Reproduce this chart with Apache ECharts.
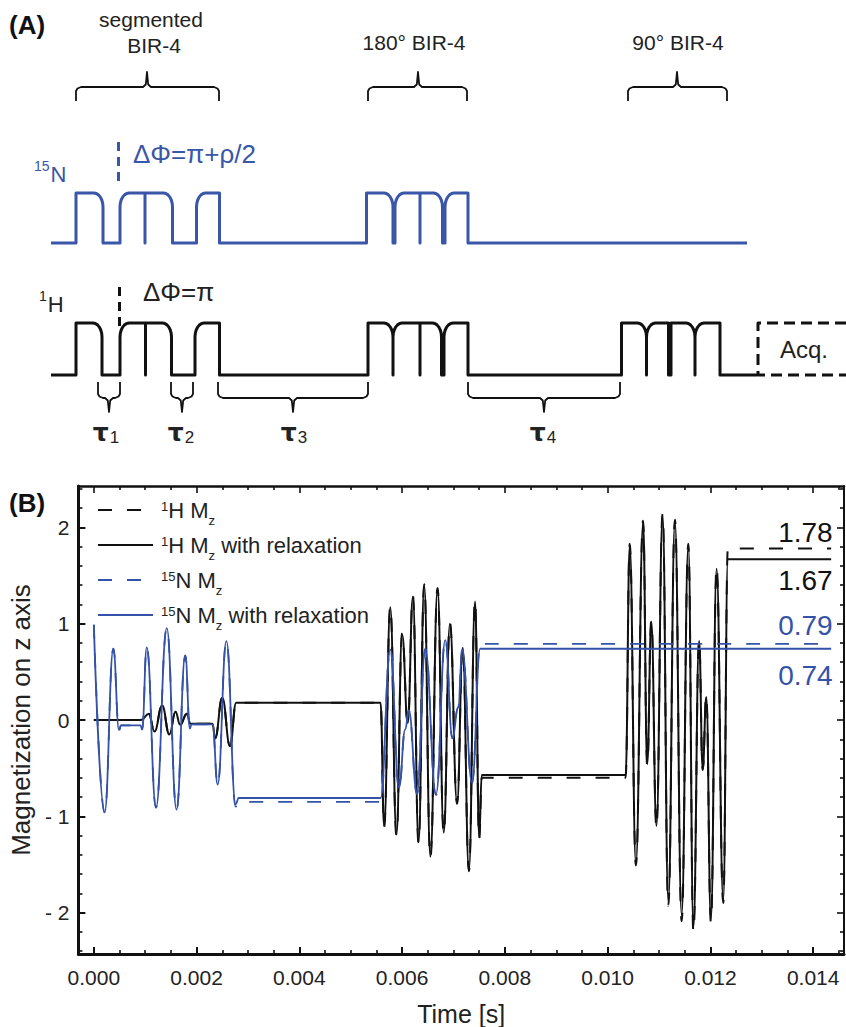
<!DOCTYPE html>
<html><head><meta charset="utf-8">
<script src="https://cdn.jsdelivr.net/npm/echarts@6/dist/echarts.min.js"></script>
<style>html,body{margin:0;padding:0;background:#fff}#c{width:846px;height:1027px}</style>
</head><body><div id="c"></div>
<script>
// ================= Panel B data (time in s, magnetization) =================
const xMajorTicks = [0, 0.002, 0.004, 0.006, 0.008, 0.010, 0.012, 0.014];
const xMinorTicks = [0.0005,0.001,0.0015,0.0025,0.003,0.0035,0.0045,0.005,0.0055,0.0065,0.007,0.0075,0.0085,0.009,0.0095,0.0105,0.011,0.0115,0.0125,0.013,0.0135,0.0145];
const yMajorTicks = [-2, -1, 0, 1, 2];
const yMinorTicks = [-2.4,-2.2,-1.8,-1.6,-1.4,-1.2,-0.8,-0.6,-0.4,-0.2,0.2,0.4,0.6,0.8,1.2,1.4,1.6,1.8,2.2,2.4];

const seriesNames = ['1H Mz', '1H Mz with relaxation', '15N Mz', '15N Mz with relaxation'];

const h1MzRelax = [
 [0,0],[0.00092,0],[0.00107,0.065],[0.00118,-0.12],[0.00133,0.15],[0.00147,-0.15],[0.00159,0.085],
 [0.00168,-0.05],[0.00181,0.065],[0.00188,-0.04],[0.00231,-0.04],[0.00236,-0.19],[0.00250,0.23],
 [0.00265,-0.27],[0.00277,0.18],[0.00558,0.18],
 [0.00565,-1.10],[0.00577,1.17],[0.00589,-1.19],[0.00600,0.89],[0.00611,-0.03],[0.00621,1.28],
 [0.00632,-1.27],[0.00643,1.40],[0.00655,-1.42],[0.00669,1.36],[0.00681,-1.17],[0.00693,1.00],
 [0.00707,-0.86],[0.00718,0.75],[0.00730,-1.56],[0.00742,1.23],[0.00750,-1.22],[0.00755,-0.57],
 [0.01035,-0.57],
 [0.01043,1.81],[0.01055,-1.49],[0.01069,2.05],[0.01077,-0.46],[0.01085,1.02],[0.01095,-1.10],
 [0.01107,2.12],[0.01118,-1.88],[0.01131,2.06],[0.01144,-2.02],[0.01157,1.81],[0.01167,-2.15],
 [0.01178,0.82],[0.01185,-0.51],[0.01192,0.24],[0.01201,-2.07],[0.01212,1.57],[0.01225,-1.87],
 [0.01234,1.67],[0.01435,1.67]
];
const h1Mz = [
 [0,0],[0.00092,0],[0.00107,0.065],[0.00118,-0.12],[0.00133,0.15],[0.00147,-0.15],[0.00159,0.085],
 [0.00168,-0.05],[0.00181,0.065],[0.00188,-0.04],[0.00231,-0.04],[0.00236,-0.19],[0.00250,0.23],
 [0.00265,-0.27],[0.00277,0.18],[0.00558,0.18],
 [0.00565,-1.11],[0.00577,1.18],[0.00589,-1.20],[0.00600,0.90],[0.00611,-0.03],[0.00621,1.29],
 [0.00632,-1.28],[0.00643,1.41],[0.00655,-1.43],[0.00669,1.37],[0.00681,-1.18],[0.00693,1.01],
 [0.00707,-0.87],[0.00718,0.76],[0.00730,-1.57],[0.00742,1.24],[0.00750,-1.24],[0.00755,-0.60],
 [0.01035,-0.60],
 [0.01043,1.83],[0.01055,-1.51],[0.01069,2.07],[0.01077,-0.47],[0.01085,1.03],[0.01095,-1.12],
 [0.01107,2.14],[0.01118,-1.93],[0.01131,2.08],[0.01144,-2.09],[0.01157,1.83],[0.01167,-2.20],
 [0.01178,0.83],[0.01185,-0.52],[0.01192,0.25],[0.01201,-2.10],[0.01212,1.59],[0.01225,-1.90],
 [0.01234,1.78],[0.01435,1.78]
];
const n15MzRelax = [
 [0,0.99],[0.00021,-0.96],[0.00038,0.74],[0.00049,-0.105],[0.00053,-0.055],[0.00091,-0.055],
 [0.00094,-0.10],[0.00103,0.755],[0.00121,-0.91],[0.00142,0.955],[0.00161,-0.93],[0.00178,0.67],
 [0.00187,-0.09],[0.00190,-0.045],[0.00231,-0.045],[0.00241,-0.67],[0.00258,0.82],[0.00276,-0.875],
 [0.00282,-0.81],[0.00558,-0.81],
 [0.00577,0.73],[0.00594,-0.70],[0.00606,-0.10],[0.00613,0.10],[0.00629,-0.76],[0.00645,0.73],
 [0.00666,-0.77],[0.00684,0.83],[0.00698,-0.19],[0.00709,0.13],[0.00717,0.72],[0.00736,-0.65],
 [0.00752,0.74],[0.01435,0.74]
];
const n15Mz = [
 [0,0.99],[0.00021,-0.96],[0.00038,0.74],[0.00049,-0.105],[0.00053,-0.055],[0.00091,-0.055],
 [0.00094,-0.10],[0.00103,0.755],[0.00121,-0.91],[0.00142,0.955],[0.00161,-0.93],[0.00178,0.67],
 [0.00187,-0.09],[0.00190,-0.045],[0.00231,-0.045],[0.00241,-0.67],[0.00258,0.82],[0.00276,-0.90],
 [0.00282,-0.85],[0.00558,-0.85],
 [0.00577,0.74],[0.00594,-0.71],[0.00606,-0.10],[0.00613,0.10],[0.00629,-0.77],[0.00645,0.74],
 [0.00666,-0.78],[0.00684,0.84],[0.00698,-0.19],[0.00709,0.13],[0.00717,0.73],[0.00736,-0.66],
 [0.00752,0.79],[0.01435,0.79]
];
const finalValues = {h1Mz: 1.78, h1MzRelax: 1.67, n15Mz: 0.79, n15MzRelax: 0.74};

// ================= Panel A (pulse sequence schematic, diagram units) =================
const nTrack = {from: 51, to: 747, base: 243, top: 193};
const hTrack = {from: 51, to: 757, base: 375, top: 323};
// [start, end, kind]  A = abrupt start / rounded end ; R = rounded start / abrupt end
const nPulses = [[76,103,'A'],[120,145,'R'],[145,172.5,'A'],[196.5,219.5,'R'],
                 [366.5,393,'A'],[395,420,'R'],[420,442.5,'A'],[445,468,'R']];
const hPulses = [[76,102,'A'],[120,145.5,'R'],[145.5,171.5,'A'],[195,219.5,'R'],
                 [368,393,'A'],[393,420,'R'],[420,441.5,'A'],[444,468,'R'],
                 [621.5,646.5,'A'],[646.5,668.5,'R'],[671,695,'A'],[695,720,'R']];
const topBraces = [[76,219,147],[368,467,418],[628,727,677]];   // [x0,x1,xc]
const tauBraces = [[98,120,109],[171,193,182],[218,368,293],[468,620,544]];
const phaseMarkers = {n: [118.5, 142, 182], h: [119.5, 287, 326]};
const acqBox = [758, 846, 323, 375];

const BLUE = '#3a56a8', BLACK = '#111111', FONT = 'Liberation Sans, Arial, sans-serif';

function trackPoints(tr, pulses) {
  const rx = 9, ry = 14, n = 6;
  const pts = [[tr.from, tr.base]];
  for (const [a, b, kind] of pulses) {
    pts.push([a, tr.base]);
    if (kind === 'A') {
      pts.push([a, tr.top], [b - rx, tr.top]);
      for (let i = 1; i <= n; i++) { const th = i / n * Math.PI / 2;
        pts.push([b - rx + rx * Math.sin(th), tr.top + ry - ry * Math.cos(th)]); }
      pts.push([b, tr.base]);
    } else {
      pts.push([a, tr.top + ry]);
      for (let i = 1; i <= n; i++) { const th = i / n * Math.PI / 2;
        pts.push([a + rx - rx * Math.cos(th), tr.top + ry - ry * Math.sin(th)]); }
      pts.push([b, tr.top], [b, tr.base]);
    }
  }
  pts.push([tr.to, tr.base]);
  return pts;
}
function bracePoints(x0, x1, xc, yEnd, yH, yTip) {
  const s = Math.sign(yEnd - yH);
  return [[x0, yEnd], [x0, yH + 4*s], [x0 + 1.5, yH + 1.5*s], [x0 + 5, yH], [xc - 4, yH],
          [xc - 1.2, yH - 2.5*s], [xc, yTip], [xc + 1.2, yH - 2.5*s], [xc + 4, yH],
          [x1 - 5, yH], [x1 - 1.5, yH + 1.5*s], [x1, yH + 4*s], [x1, yEnd]];
}
function lineA(data, color, width, type, z) {
  return {type: 'line', xAxisIndex: 0, yAxisIndex: 0, data, symbol: 'none', silent: true,
          clip: false, animation: false, z: z || 2,
          lineStyle: {color, width, type: type || 'solid', join: 'round'}};
}

const seriesA = [];
seriesA.push(lineA(trackPoints(nTrack, nPulses), BLUE, 3));
seriesA.push(lineA(trackPoints(hTrack, hPulses), BLACK, 3));
topBraces.forEach(b => seriesA.push(lineA(bracePoints(b[0], b[1], b[2], 101, 87, 72), BLACK, 1.8)));
tauBraces.forEach(b => seriesA.push(lineA(bracePoints(b[0], b[1], b[2], 382, 398, 412), BLACK, 1.8)));
seriesA.push(lineA([[phaseMarkers.n[0], phaseMarkers.n[1]], [phaseMarkers.n[0], phaseMarkers.n[2]]], BLUE, 3, [9, 6]));
seriesA.push(lineA([[phaseMarkers.h[0], phaseMarkers.h[1]], [phaseMarkers.h[0], phaseMarkers.h[2]]], BLACK, 3, [9, 6]));
seriesA.push(lineA([[acqBox[1], acqBox[2]], [acqBox[0], acqBox[2]], [acqBox[0], acqBox[3]], [acqBox[1], acqBox[3]]], BLACK, 3, [11, 6]));

// ================= Panel B series =================
function markFinal(val, text, dy, color) {
  return {symbol: 'circle', symbolSize: 1, itemStyle: {color: 'rgba(0,0,0,0)'}, silent: true,
    data: [{coord: [0.01435, val], label: {show: true, position: 'left', distance: 0, offset: [2, dy],
      formatter: text, fontSize: 28, fontFamily: FONT, color}}]};
}
function lineB(name, data, color, dashed, width, mark) {
  return {name, type: 'line', xAxisIndex: 1, yAxisIndex: 1, data, symbol: 'none', smooth: 0.45,
    smoothMonotone: 'x', animation: false,
    lineStyle: {color, width, type: dashed ? [14, 15] : 'solid'}, itemStyle: {color}, markPoint: mark};
}
const PBLUE = '#3452a8';
const seriesB = [
  lineB(seriesNames[0], h1Mz, BLACK, true, 2, markFinal(finalValues.h1Mz, '1.78', -16, BLACK)),
  lineB(seriesNames[1], h1MzRelax, BLACK, false, 2, markFinal(finalValues.h1MzRelax, '1.67', 21, BLACK)),
  lineB(seriesNames[2], n15Mz, PBLUE, true, 1.8, markFinal(finalValues.n15Mz, '0.79', -18, PBLUE)),
  lineB(seriesNames[3], n15MzRelax, PBLUE, false, 1.8, markFinal(finalValues.n15MzRelax, '0.74', 27, PBLUE))
];

const legendRich = {
  s: {fontSize: 13, fontFamily: FONT, color: '#222', verticalAlign: 'top', lineHeight: 13, padding: [1, 0, 0, 3]},
  m: {fontSize: 22, fontFamily: FONT, color: '#222', verticalAlign: 'top', lineHeight: 22, padding: [0, 0, 10, 0]},
  z: {fontSize: 13, fontFamily: FONT, color: '#222', verticalAlign: 'top', lineHeight: 13, padding: [15, 0, 0, 0]}
};
const legendText = {
  '1H Mz': '{s|1}{m|H M}{z|z}',
  '1H Mz with relaxation': '{s|1}{m|H M}{z|z}{m| with relaxation}',
  '15N Mz': '{s|15}{m|N M}{z|z}',
  '15N Mz with relaxation': '{s|15}{m|N M}{z|z}{m| with relaxation}'
};

const axisCommon = {type: 'value', gridIndex: 1, splitLine: {show: false}};
const xRange = {min: -0.0003, max: 0.0146};
const yRange = {min: -2.43, max: 2.43};
function tickAxis(base, pos, ticks, len, lineW, showLine) {
  return Object.assign({}, axisCommon, base, {position: pos,
    axisLine: {show: showLine, onZero: false, lineStyle: {color: BLACK, width: lineW}},
    axisTick: {show: true, inside: true, length: len, customValues: ticks, lineStyle: {color: BLACK, width: 1.6}},
    axisLabel: {show: false}});
}

const xAxes = [
  {type: 'value', gridIndex: 0, min: 0, max: 846, show: false},
  Object.assign({}, axisCommon, xRange, {position: 'bottom',
    axisLine: {show: true, onZero: false, lineStyle: {color: BLACK, width: 3}},
    axisTick: {show: true, inside: true, length: 7, customValues: xMajorTicks, lineStyle: {color: BLACK, width: 2}},
    axisLabel: {show: true, customValues: xMajorTicks, formatter: v => v.toFixed(3), fontSize: 21,
      fontFamily: FONT, color: '#222', margin: 13},
    name: 'Time [s]', nameLocation: 'middle', nameGap: 47,
    nameTextStyle: {fontSize: 25, fontFamily: FONT, color: '#222'}}),
  tickAxis(xRange, 'bottom', xMinorTicks, 4, 3, false),
  tickAxis(xRange, 'top', xMajorTicks, 7, 2.5, true),
  tickAxis(xRange, 'top', xMinorTicks, 4, 2.5, false)
];
const yAxes = [
  {type: 'value', gridIndex: 0, min: 0, max: 460, inverse: true, show: false},
  Object.assign({}, axisCommon, yRange, {position: 'left',
    axisLine: {show: true, onZero: false, lineStyle: {color: BLACK, width: 3}},
    axisTick: {show: true, inside: true, length: 7, customValues: yMajorTicks, lineStyle: {color: BLACK, width: 2}},
    axisLabel: {show: true, customValues: yMajorTicks, formatter: v => (v < 0 ? '- ' + (-v) : String(v)),
      fontSize: 21, fontFamily: FONT, color: '#222', margin: 9},
    name: 'Magnetization on z axis', nameLocation: 'middle', nameGap: 40, nameRotate: 90,
    nameTextStyle: {fontSize: 26, fontFamily: FONT, color: '#222'}}),
  tickAxis(yRange, 'left', yMinorTicks, 4, 3, false),
  tickAxis(yRange, 'right', yMajorTicks, 7, 2, true),
  tickAxis(yRange, 'right', yMinorTicks, 4, 2, false)
];

function txt(x, y, text, size, color, opts) {
  return Object.assign({type: 'text', x, y, silent: true,
    style: Object.assign({text, fontSize: size, fontFamily: FONT, fill: color || '#222',
      align: 'center', verticalAlign: 'middle'}, (opts && opts.style) || {})}, (opts && opts.el) || {});
}
const supRich = (c, big) => ({
  s: {fontSize: 14, fontFamily: FONT, fill: c, color: c, verticalAlign: 'top', lineHeight: 14},
  m: {fontSize: big, fontFamily: FONT, fill: c, color: c, verticalAlign: 'bottom', lineHeight: big + 4, padding: [0, 0, 0, 1]}
});
const tauRich = {
  t: {fontSize: 25, fontWeight: 'bold', fontFamily: 'DejaVu Sans, sans-serif', fill: '#222', verticalAlign: 'top', lineHeight: 26},
  b: {fontSize: 17, fontFamily: FONT, fill: '#222', verticalAlign: 'bottom', lineHeight: 17, padding: [14, 0, 0, 1]}
};
const graphics = [
  txt(9, 25, '(A)', 26, '#111', {style: {align: 'left', fontWeight: 'bold'}}),
  txt(151, 19, 'segmented', 21, '#222'),
  txt(154, 45, 'BIR-4', 21, '#222'),
  txt(414, 42, '180° BIR-4', 21, '#222'),
  txt(678, 42, '90° BIR-4', 21, '#222'),
  txt(34, 172, '{s|15}{m|N}', 22, BLUE, {style: {align: 'left', rich: supRich(BLUE, 22)}}),
  txt(133, 154, 'ΔΦ=π+ρ/2', 26, BLUE, {style: {align: 'left'}}),
  txt(39, 302, '{s|1}{m|H}', 22, '#222', {style: {align: 'left', rich: supRich('#222', 22)}}),
  txt(143, 292, 'ΔΦ=π', 26, '#222', {style: {align: 'left'}}),
  txt(106, 433, '{t|τ}{b|1}', 22, '#222', {style: {rich: tauRich}}),
  txt(181, 433, '{t|τ}{b|2}', 22, '#222', {style: {rich: tauRich}}),
  txt(294, 433, '{t|τ}{b|3}', 22, '#222', {style: {rich: tauRich}}),
  txt(543, 433, '{t|τ}{b|4}', 22, '#222', {style: {rich: tauRich}}),
  txt(780, 349, 'Acq.', 24, '#222', {style: {align: 'left'}}),
  txt(9, 503, '(B)', 26, '#111', {style: {align: 'left', fontWeight: 'bold'}})
];

const chart = echarts.init(document.getElementById('c'), null, {renderer: 'svg', width: 846, height: 1027});
chart.setOption({
  animation: false,
  backgroundColor: '#fff',
  textStyle: {fontFamily: FONT},
  grid: [
    {left: 0, top: 0, width: 846, height: 460},
    {left: 76, top: 486, width: 768, height: 474}
  ],
  xAxis: xAxes,
  yAxis: yAxes,
  legend: {data: seriesNames, orient: 'vertical', left: 92, top: 494, padding: 5, itemWidth: 55, itemHeight: 14,
    itemGap: 3, selectedMode: false, formatter: n => legendText[n], textStyle: {rich: legendRich},
    itemStyle: {opacity: 0}},
  graphic: graphics,
  series: seriesA.concat(seriesB)
});
</script></body></html>
